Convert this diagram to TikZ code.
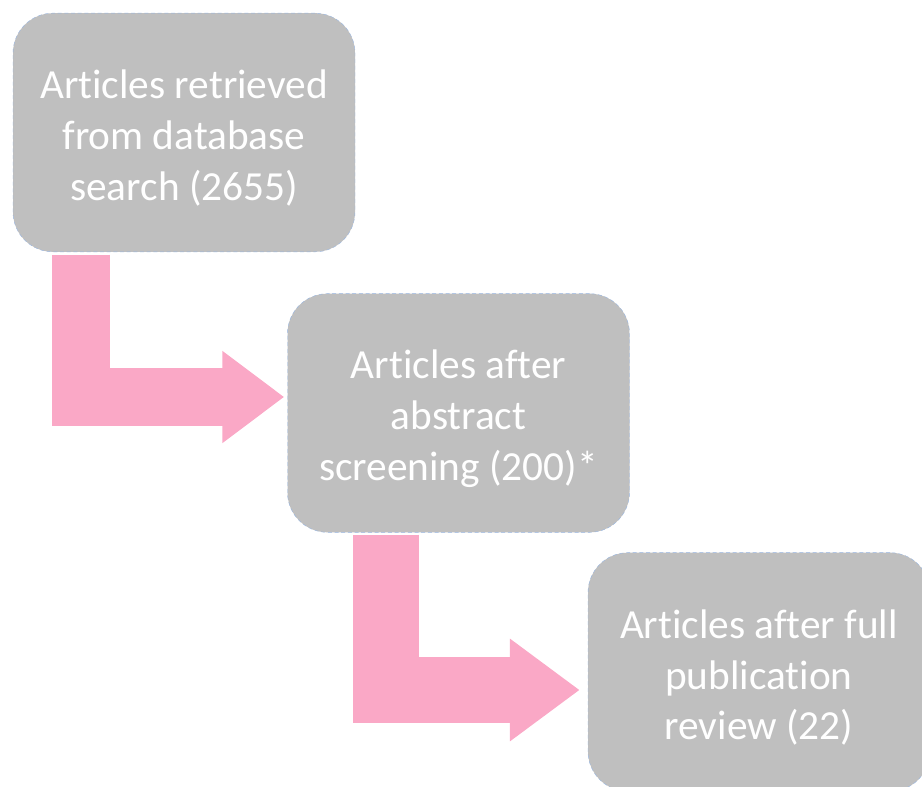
\documentclass[tikz,border=0pt]{standalone}
\usepackage{fontspec}
\setmainfont{Carlito}[Ligatures=NoCommon]
\usetikzlibrary{arrows.meta}
\definecolor{boxgray}{RGB}{191,191,191}
\definecolor{arrowpink}{RGB}{250,168,198}
\definecolor{edgeblue}{RGB}{150,180,225}
\newcommand{\topstrut}{\rule{0pt}{30pt}}

\begin{document}
\begin{tikzpicture}[
    x=0.75pt,
    y=-0.75pt,
    stage node/.style={rectangle,rounded corners=30pt,fill=boxgray,draw=edgeblue,densely dashed,line width=0.3pt,minimum width=256.5pt,minimum height=179pt,align=center,text=white,font=\fontsize{31}{38}\selectfont},
    flow arrow/.style={arrowpink,line join=miter}
]
\clip (0,0) rectangle (922,787);

% Stages
\node[stage node] (retrieved) at (184,132.5) {\topstrut Articles retrieved\\from database\\search (2655)};
\node[stage node] (abstract) at (458.5,413) {\topstrut Articles after\\abstract\\screening (200)*};
\node[stage node] (fulltext) at (759,672) {\topstrut Articles after full\\publication\\review (22)};

% Arrows
\draw[flow arrow,line width=43.5pt,-{Triangle[length=46.5pt 0,width=66pt 0]}] ([shift={(51pt,-2pt)}]retrieved.south west) |- ([shift={(-2.25pt,12pt)}]abstract.west);
\draw[flow arrow,line width=49.5pt,-{Triangle[length=52.5pt 0,width=73.5pt 0]}] ([shift={(74.25pt,-1.5pt)}]abstract.south west) |- ([shift={(-6pt,-13.5pt)}]fulltext.west);

\end{tikzpicture}
\end{document}
